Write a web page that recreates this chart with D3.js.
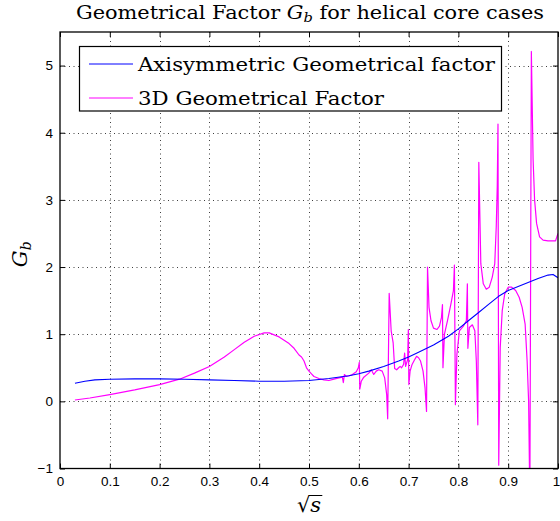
<!DOCTYPE html>
<html><head><meta charset="utf-8">
<script src="https://cdn.jsdelivr.net/npm/d3@7"></script>
<style>body{margin:0;background:#fff}svg{display:block}</style>
</head><body><svg id="c" width="560" height="521"></svg>
<script>
const titleText = ["Geometrical Factor ", "G", "b", " for helical core cases"];
const seriesNames = ["Axisymmetric Geometrical factor", "3D Geometrical Factor"];
const xTicks = [0,0.1,0.2,0.3,0.4,0.5,0.6,0.7,0.8,0.9,1];
const xTickLabels = ["0","0.1","0.2","0.3","0.4","0.5","0.6","0.7","0.8","0.9","1"];
const yTicks = [-1,0,1,2,3,4,5];
const yTickLabels = ["\u22121","0","1","2","3","4","5"];

const axiX = [0.03,0.05,0.07,0.1,0.15,0.2,0.25,0.3,0.35,0.4,0.45,0.5,0.54,0.58,0.6,0.62,0.65,0.68,0.7,0.72,0.75,0.78,0.8,0.82,0.84,0.86,0.88,0.9,0.92,0.94,0.96,0.98,0.99,1.0];
const axiY = [0.27,0.3,0.32,0.33,0.335,0.335,0.33,0.32,0.31,0.3,0.3,0.31,0.34,0.38,0.41,0.45,0.52,0.6,0.66,0.73,0.84,0.97,1.08,1.2,1.32,1.44,1.56,1.65,1.71,1.77,1.83,1.88,1.89,1.84];

const g3dX = [0.03,0.06,0.1,0.15,0.2,0.24,0.27,0.3,0.33,0.35,0.37,0.39,0.41,0.42,0.44,0.46,0.47,0.48,0.485,0.49,0.495,0.5,0.505,0.51,0.52,0.53,0.54,0.55,0.56,0.567,0.569,0.571,0.575,0.585,0.595,0.599,0.601,0.602,0.605,0.61,0.62,0.625,0.63,0.635,0.64,0.647,0.652,0.656,0.658,0.661,0.665,0.669,0.672,0.676,0.68,0.683,0.686,0.69,0.692,0.694,0.698,0.6995,0.7005,0.703,0.707,0.712,0.716,0.72,0.724,0.729,0.733,0.736,0.738,0.741,0.745,0.75,0.757,0.762,0.766,0.768,0.769,0.772,0.778,0.785,0.79,0.792,0.794,0.797,0.802,0.81,0.816,0.818,0.819,0.822,0.828,0.833,0.836,0.839,0.841,0.845,0.85,0.856,0.862,0.868,0.873,0.876,0.878,0.8795,0.881,0.884,0.888,0.893,0.9,0.907,0.915,0.922,0.928,0.934,0.938,0.941,0.9435,0.9465,0.95,0.953,0.957,0.963,0.97,0.98,0.995,1.0];
const g3dY = [0.02,0.05,0.1,0.17,0.25,0.33,0.42,0.52,0.66,0.77,0.88,0.97,1.02,1.02,0.96,0.86,0.79,0.69,0.66,0.6,0.5,0.45,0.41,0.37,0.34,0.32,0.31,0.33,0.35,0.36,0.28,0.4,0.37,0.39,0.44,0.5,0.58,0.18,0.3,0.36,0.42,0.47,0.4,0.45,0.47,0.45,0.35,0.1,-0.26,1.61,1.05,0.87,0.49,0.47,0.5,0.52,0.5,0.55,0.72,0.52,0.62,1.07,0.25,0.45,0.55,0.62,0.67,0.65,0.6,0.45,0.2,-0.15,2.0,1.4,1.2,1.09,1.07,1.12,1.25,1.44,0.5,1.0,1.2,1.45,1.65,2.03,-0.05,0.7,1.05,1.12,1.2,1.75,0.79,1.1,1.14,1.05,0.6,-0.35,3.56,2.05,1.75,1.67,1.7,1.85,2.05,2.6,3.2,4.13,-0.95,0.8,1.35,1.6,1.7,1.7,1.65,1.55,1.4,1.15,0.6,0,-1.5,5.21,3.6,3.0,2.65,2.45,2.4,2.39,2.39,2.5];

const M = {left:60, right:558, top:32, bottom:468.5};
const svg = d3.select("#c");
const x = d3.scaleLinear().domain([0,1]).range([M.left, M.right]);
const y = d3.scaleLinear().domain([-1,5.5]).range([M.bottom, M.top]);
const serif = "'DejaVu Serif', 'Liberation Serif', serif";
const sans = "'Liberation Sans', Arial, sans-serif";

svg.append("defs").append("clipPath").attr("id","clip")
  .append("rect").attr("x",M.left).attr("y",M.top).attr("width",M.right-M.left).attr("height",M.bottom-M.top);

// grid
const grid = svg.append("g").attr("stroke","#000").attr("stroke-width",1).attr("stroke-dasharray","1,3.5").attr("opacity",0.75);
xTicks.slice(1,-1).forEach(t=>{
  grid.append("line").attr("x1",Math.round(x(t))+0.5).attr("x2",Math.round(x(t))+0.5).attr("y1",M.top).attr("y2",M.bottom);
});
yTicks.slice(1).forEach(t=>{
  grid.append("line").attr("y1",Math.round(y(t))+0.5).attr("y2",Math.round(y(t))+0.5).attr("x1",M.left).attr("x2",M.right);
});

// axes with inward ticks
const tl = 5;
const axB = d3.axisBottom(x).tickValues(xTicks).tickFormat((d,i)=>xTickLabels[i]).tickSizeInner(-tl).tickSizeOuter(0).tickPadding(8);
const axL = d3.axisLeft(y).tickValues(yTicks).tickFormat((d,i)=>yTickLabels[i]).tickSizeInner(-tl).tickSizeOuter(0).tickPadding(7);
const axT = d3.axisTop(x).tickValues(xTicks).tickFormat("").tickSizeInner(-tl).tickSizeOuter(0);
const axR = d3.axisRight(y).tickValues(yTicks).tickFormat("").tickSizeInner(-tl).tickSizeOuter(0);
function style(g){ g.select(".domain").remove(); g.selectAll("line").attr("stroke","#000"); g.selectAll("text").attr("font-family",sans).attr("font-size",13.5).attr("fill","#000"); }
const gB = svg.append("g").attr("transform",`translate(0,${M.bottom})`).call(axB).call(style);
gB.selectAll(".tick text").filter(d=>d===1).attr("dx",-2);
svg.append("g").attr("transform",`translate(${M.left},0)`).call(axL).call(style);
svg.append("g").attr("transform",`translate(0,${M.top})`).call(axT).call(style);
svg.append("g").attr("transform",`translate(${M.right},0)`).call(axR).call(style);

// data lines
const line = d3.line().x(d=>x(d[0])).y(d=>y(d[1]));
const plot = svg.append("g").attr("clip-path","url(#clip)");
plot.append("path").datum(g3dX.map((v,i)=>[v,g3dY[i]])).attr("d",line).attr("fill","none").attr("stroke","#ff00ff").attr("stroke-width",1.2).attr("stroke-linejoin","round");
plot.append("path").datum(axiX.map((v,i)=>[v,axiY[i]])).attr("d",line).attr("fill","none").attr("stroke","#0000ff").attr("stroke-width",1.1).attr("stroke-linejoin","round");

// frame
svg.append("rect").attr("x",M.left).attr("y",M.top).attr("width",M.right-M.left).attr("height",M.bottom-M.top).attr("fill","none").attr("stroke","#000").attr("stroke-width",1.3);

// legend
const lg = svg.append("g");
lg.append("rect").attr("x",79.5).attr("y",46.5).attr("width",422).attr("height",64.5).attr("fill","#fff").attr("stroke","#000").attr("stroke-width",1.2);
const colors = ["#0000ff","#ff00ff"];
const ly = [64, 98];
const lw = [357, 246];
seriesNames.forEach((n,i)=>{
  lg.append("line").attr("x1",89).attr("x2",133).attr("y1",ly[i]).attr("y2",ly[i]).attr("stroke",colors[i]).attr("stroke-width",1);
  lg.append("text").attr("x",138).attr("y",ly[i]+6.5).attr("font-family",serif).attr("font-size",18.5).attr("fill","#000")
    .attr("textLength",lw[i]).attr("lengthAdjust","spacingAndGlyphs").text(n);
});

// title
const tt = svg.append("text").attr("x",(M.left+M.right)/2 + 1).attr("y",19).attr("text-anchor","middle").attr("font-family",serif).attr("font-size",18.5).attr("fill","#000")
  .attr("textLength",468).attr("lengthAdjust","spacingAndGlyphs");
tt.append("tspan").text(titleText[0]);
tt.append("tspan").attr("font-style","italic").text(titleText[1]);
tt.append("tspan").attr("font-style","italic").attr("font-size",13).attr("dy",3).text(titleText[2]);
tt.append("tspan").attr("dy",-3).text(titleText[3]);

// y label
const yl = svg.append("text").attr("transform",`translate(27,${(M.top+M.bottom)/2 + 4}) rotate(-90)`).attr("text-anchor","middle").attr("font-family",serif).attr("font-size",21).attr("fill","#000");
yl.append("tspan").attr("font-style","italic").text("G");
yl.append("tspan").attr("font-style","italic").attr("font-size",14).attr("dy",4).text("b");

// x label
const xl = svg.append("text").attr("x",(M.left+M.right)/2).attr("y",512).attr("text-anchor","middle").attr("font-family",serif).attr("font-size",21).attr("fill","#000");
xl.append("tspan").text("\u221A");
xl.append("tspan").attr("font-style","italic").text("s");
const bb = xl.node().getBBox();
svg.append("line").attr("x1",bb.x+bb.width*0.5).attr("x2",bb.x+bb.width+1).attr("y1",bb.y+2.5).attr("y2",bb.y+2.5).attr("stroke","#000").attr("stroke-width",1);
</script></body></html>
